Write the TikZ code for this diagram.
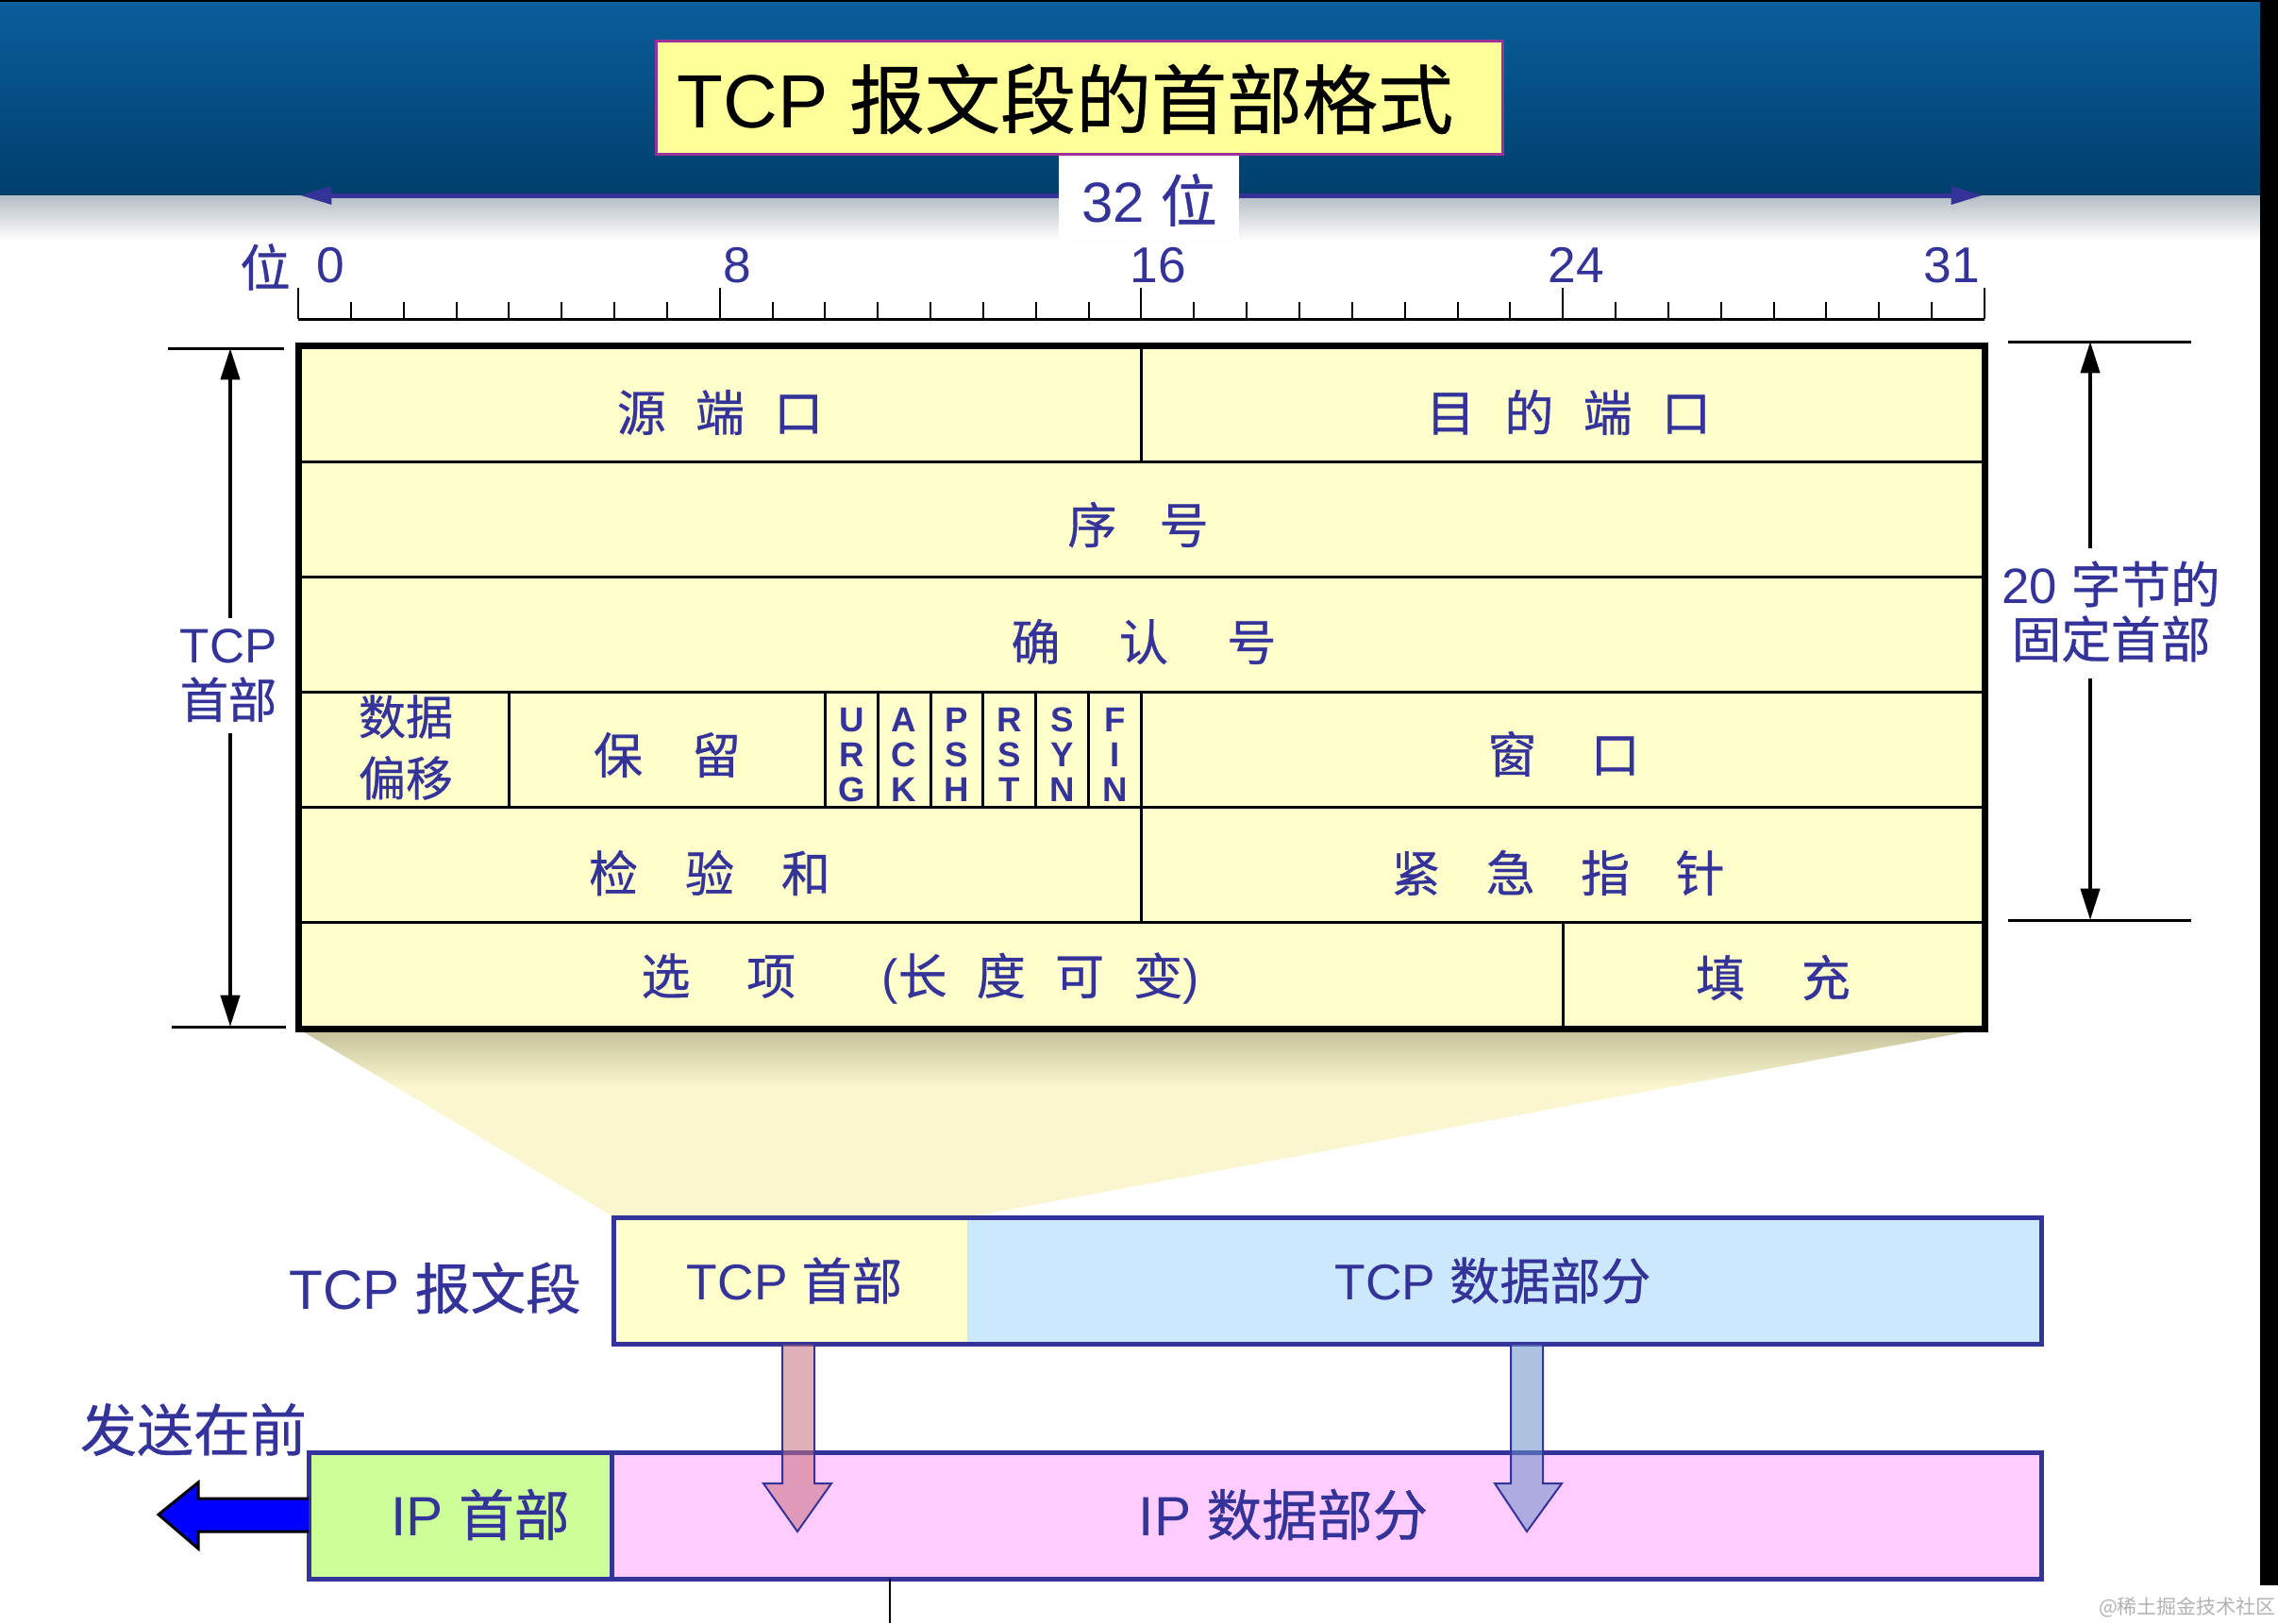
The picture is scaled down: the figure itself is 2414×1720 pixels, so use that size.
\documentclass[tikz,border=0pt]{standalone}
\usepackage{fontspec}
\setmainfont{Liberation Sans}
\newfontfamily\cjk[FakeBold=0.6]{Noto Sans CJK SC}
\newfontfamily\cjklight{Noto Sans CJK SC}
\usetikzlibrary{arrows.meta}
\definecolor{navy}{HTML}{333399}
\definecolor{hdrfill}{HTML}{FFFFCC}
\definecolor{titlefill}{HTML}{FFFF99}
\definecolor{titleedge}{HTML}{993399}
\definecolor{bandtop}{HTML}{0A5E9C}
\definecolor{bandbot}{HTML}{003F6C}
\definecolor{bandgray}{HTML}{B4BCC4}
\definecolor{trapfill}{HTML}{FAF6CF}
\definecolor{trapshadow}{HTML}{C2C09A}
\definecolor{tcpdata}{HTML}{CCE8FF}
\definecolor{iphdr}{HTML}{CCFF99}
\definecolor{ipdata}{HTML}{FFCCFF}
\definecolor{pinkarrow}{HTML}{C8707F}
\definecolor{bluearrow}{HTML}{6A90C8}
\newcommand\zh[1]{{\cjk #1}}
\newcommand\la[1]{{\rmfamily #1}}
\newcommand\gp[1]{\hspace{#1em}}
\newcommand\fs[2]{\fontsize{#1pt}{#2pt}\selectfont}
\begin{document}
\begin{tikzpicture}[x=0.3pt,y=-0.3pt,
  lbl/.style={text=navy,inner sep=0pt,align=center},
  fld/.style={lbl,font=\cjk\fs{15.6}{18}},
  flag/.style={lbl,font=\bfseries\fs{11}{11.1}},
  dimlbl/.style={lbl,font=\fs{15.4}{17.4}},
  rul/.style={lbl,font=\fs{16}{19}},
  biglbl/.style={lbl,font=\fs{17.6}{21}},
  midlbl/.style={lbl,font=\fs{16}{19}},
  innerln/.style={line width=0.9pt,black},
  outerln/.style={line width=2.1pt,black},
  dimline/.style={line width=0.9pt,black},
  dimarrow/.style={line width=1.2pt,black,-{Triangle[length=10pt,width=6pt]}},
  bitarrow/.style={line width=1.5pt,navy,{Triangle[length=10pt,width=5.5pt]}-{Triangle[length=10pt,width=5.5pt]}},
  segbox/.style={inner sep=0pt,outer sep=0pt,minimum height=40.2pt},
  segedge/.style={line width=1.5pt,navy},
  fatarrow/.style={draw=navy,line width=0.6pt,fill opacity=0.55},
]
\useasboundingbox (0,0) rectangle (2414,1720);
\fill[white] (0,0) rectangle (2414,1720);
% background band
\shade[top color=bandtop,bottom color=bandbot] (0,0) rectangle (2414,207);
\shade[top color=bandgray,bottom color=white] (0,207) rectangle (2414,255);
\fill[black] (0,0) rectangle (2414,2);
\fill[black] (2395,0) rectangle (2414,1680);

% title
\node[draw=titleedge,line width=0.9pt,fill=titlefill,minimum width=269.1pt,minimum height=36pt,inner sep=0pt] (titlebox) at (1143.5,103) {};
\node[inner sep=0pt,font=\fs{24}{28}] (title) at (1129,105) {TCP \zh{报文段的首部格式}};

% 32-bit arrow
\coordinate (bitl) at (318,207);
\coordinate (bitr) at (2101,207);
\draw[bitarrow] (bitl) -- (bitr);
\fill[white] (1122,165) rectangle (1313,253);
\node[lbl,font=\fs{18}{21}] (bits32) at (1218,212) {32 \zh{位}};

% ruler
\foreach \i in {0,...,32}{
  \pgfmathsetmacro\xx{316+\i*55.84}
  \pgfmathsetmacro\yt{mod(\i,8)==0 ? 305 : 320}
  \draw[line width=0.6pt] (\xx,\yt) -- (\xx,338);
}
\draw[line width=0.9pt] (316,338) -- (2103,338);
\node[rul,font=\cjk\fs{16}{19}] (weilbl) at (281,283) {位};
\node[rul] (r0) at (350,281) {0};
\node[rul] (r8) at (781,281) {8};
\node[rul] (r16) at (1227,281) {16};
\node[rul] (r24) at (1670,281) {24};
\node[rul] (r31) at (2068,281) {31};

% trapezoid (projection)
\fill[trapfill] (316,1090) -- (2103,1090) -- (1025,1290) -- (651,1290) -- cycle;
\begin{scope}
  \clip (316,1090) -- (2103,1090) -- (1025,1290) -- (651,1290) -- cycle;
  \shade[top color=trapshadow,bottom color=trapfill] (300,1090) rectangle (2110,1150);
\end{scope}

% header table
\fill[hdrfill] (316,366) rectangle (2103,1090);
\foreach \yy in {489.6,611.4,733.7,855.6,977.5}{
  \draw[innerln] (316,\yy) -- (2103,\yy);
}
\draw[innerln] (1209.4,366) -- (1209.4,489.6);
\foreach \xx in {539.4,874.4,930.2,986.1,1041.9,1097.8,1153.6,1209.4}{
  \draw[innerln] (\xx,733.7) -- (\xx,855.6);
}
\draw[innerln] (1209.4,855.6) -- (1209.4,977.5);
\draw[innerln] (1656.2,977.5) -- (1656.2,1090);
\draw[outerln] (316,366) rectangle (2103,1090);

% fields
\node[fld] (srcport) at (763,437) {源\gp{0.6}端\gp{0.6}口};
\node[fld] (dstport) at (1662,437) {目\gp{0.6}的\gp{0.6}端\gp{0.6}口};
\node[fld] (seqno) at (1206,556) {序\gp{0.87}号};
\node[fld] (ackno) at (1212,680) {确\gp{1.2}认\gp{1.2}号};
\node[fld,font=\cjk\fs{15}{19.5}] (offset) at (430,792) {数据\\偏移};
\node[fld] (rsv) at (707,800) {保\gp{1.0}留};
\node[flag] (furg) at (902.3,800) {U\\R\\G};
\node[flag] (fack) at (958.1,800) {A\\C\\K};
\node[flag] (fpsh) at (1014,800) {P\\S\\H};
\node[flag] (frst) at (1069.8,800) {R\\S\\T};
\node[flag] (fsyn) at (1125.7,800) {S\\Y\\N};
\node[flag] (ffin) at (1181.5,800) {F\\I\\N};
\node[fld] (window) at (1657,799) {窗\gp{1.1}口};
\node[fld] (checksum) at (752,925) {检\gp{0.96}验\gp{0.96}和};
\node[fld] (urgptr) at (1651,925) {紧\gp{0.93}急\gp{0.93}指\gp{0.93}针};
\node[fld] (options) at (975,1037) {选\gp{1.15}项\gp{1.75}\la{(}长\gp{0.6}度\gp{0.6}可\gp{0.6}变\la{)}};
\node[fld] (padding) at (1879,1036) {填\gp{1.15}充};

% left dimension
\coordinate (ltop) at (244,369);
\coordinate (lbot) at (244,1088);
\draw[dimline] (178,369) -- (301,369);
\draw[dimline] (182,1088) -- (303,1088);
\node[dimlbl] (tcphdrlbl) at (242,716) {TCP\\\zh{首部}};
\draw[dimarrow] (244,655) -- (ltop);
\draw[dimarrow] (244,777) -- (lbot);

% right dimension
\coordinate (rtop) at (2215,362);
\coordinate (rbot) at (2215,975);
\draw[dimline] (2128,362) -- (2322,362);
\draw[dimline] (2128,975) -- (2322,975);
\node[dimlbl,font=\fs{15.8}{17.4}] (fixedlbl) at (2237,648) {20 \zh{字节的}\\\zh{固定首部}};
\draw[dimarrow] (2215,581) -- (rtop);
\draw[dimarrow] (2215,719) -- (rbot);

% TCP segment
\node[segbox,fill=hdrfill,minimum width=112.5pt] (tcph) at (837.5,1357) {};
\node[segbox,fill=tcpdata,minimum width=341.4pt] (tcpd) at (1594,1357) {};
\draw[segedge] (tcph.north west) rectangle (tcpd.south east);
\node[biglbl] (seglbl) at (461,1365) {TCP \zh{报文段}};
\node[midlbl] (tcphlbl) at (842,1357) {TCP \zh{首部}};
\node[midlbl] (tcpdlbl) at (1582,1357) {TCP \zh{数据部分}};

% IP datagram
\node[segbox,fill=iphdr,minimum width=96.3pt] (iph) at (487.5,1606) {};
\node[segbox,fill=ipdata,minimum width=454.5pt] (ipd) at (1405.5,1606) {};
\draw[segedge] (iph.north west) rectangle (ipd.south east);
\draw[segedge] (iph.north east) -- (iph.south east);
\node[biglbl] (iphlbl) at (509,1605) {IP \zh{首部}};
\node[biglbl] (ipdlbl) at (1360,1605) {IP \zh{数据部分}};

% mapping arrows
\draw[fatarrow,fill=pinkarrow] (829,1424) -- (829,1572) -- (809,1572) -- (845,1623) -- (881,1572) -- (863,1572) -- (863,1424) -- cycle;
\draw[fatarrow,fill=bluearrow] (1601,1424) -- (1601,1572) -- (1584,1572) -- (1618,1623) -- (1655,1572) -- (1635,1572) -- (1635,1424) -- cycle;

% send-first arrow
\draw[line width=0.9pt,black,fill=blue] (iph.west |- 0,1588) -- (210,1588) -- (210,1571) -- (168,1605) -- (210,1641) -- (210,1623) -- (iph.west |- 0,1623);
\node[biglbl,font=\cjk\fs{18}{21}] (sendlbl) at (205,1515) {发送在前};

% small line below
\coordinate (tickbot) at (943,1720);
\draw[line width=0.6pt,black] (943,1673) -- (tickbot);

% watermark
\node[inner sep=0pt,text=black!30,font=\cjklight\fs{6.3}{8}] (wm) at (2318,1703) {@稀土掘金技术社区};
\end{tikzpicture}
\end{document}
